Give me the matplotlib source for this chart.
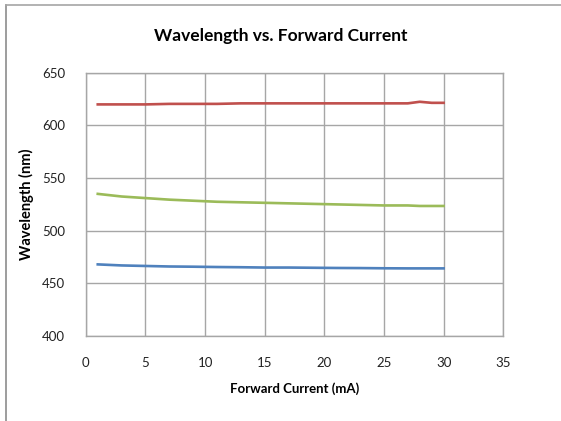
import matplotlib
matplotlib.use("Agg")
import matplotlib.pyplot as plt
from matplotlib.lines import Line2D

plt.rcParams['font.family'] = ['Lato', 'DejaVu Sans']

current = [1, 3, 5, 7, 9, 11, 13, 15, 17, 19, 21, 23, 25, 27, 28, 29, 30]
red_nm = [620, 620, 620, 620.5, 620.5, 620.5, 621, 621, 621, 621, 621, 621,
          621, 621, 622.5, 621.5, 621.5]
green_nm = [535, 532.5, 531, 529.5, 528.5, 527.5, 527, 526.5, 526, 525.5, 525,
            524.5, 524, 524, 523.5, 523.5, 523.5]
blue_nm = [468, 467, 466.5, 466, 465.8, 465.5, 465.3, 465, 465, 464.8, 464.6,
           464.5, 464.3, 464.2, 464.2, 464.2, 464.2]

x_ticks = [0, 5, 10, 15, 20, 25, 30, 35]
y_ticks = [400, 450, 500, 550, 600, 650]

GRID = dict(color='#a6a6a6', linewidth=1.0)

fig = plt.figure(figsize=(5.61, 4.21), dpi=100)
ax = fig.add_axes([0.153, 0.202, 0.744, 0.625])

ax.plot(current, red_nm, color='#C0504D', linewidth=1.9)
ax.plot(current, green_nm, color='#9BBB59', linewidth=1.9)
ax.plot(current, blue_nm, color='#4F81BD', linewidth=1.9)

ax.set_xlim(0, 35)
ax.set_ylim(400, 650)
ax.set_xticks(x_ticks)
ax.set_yticks(y_ticks)
ax.grid(True, **GRID)
ax.set_axisbelow(True)
for s in ax.spines.values():
    s.set_color('#a6a6a6')
    s.set_linewidth(1.0)
ax.tick_params(length=0, labelsize=9.5, colors='#222222')
ax.tick_params(axis='x', pad=15)
ax.tick_params(axis='y', pad=15)

ax.set_xlabel('Forward Current (mA)', fontsize=9.5, fontweight='bold', labelpad=10)
ax.set_ylabel('Wavelength (nm)', fontsize=10.5, fontweight='bold', labelpad=6)
fig.text(0.5, 0.915, 'Wavelength vs. Forward Current', ha='center', va='center',
         fontsize=12.5, fontweight='bold')

# outer chart frame (only left and top edges visible)
fig.add_artist(Line2D([0.011, 0.011], [0.0, 0.988], color='#8c8c8c', linewidth=1.2))
fig.add_artist(Line2D([0.011, 1.0], [0.988, 0.988], color='#a6a6a6', linewidth=1.2))

fig.savefig('out.png', dpi=100)
